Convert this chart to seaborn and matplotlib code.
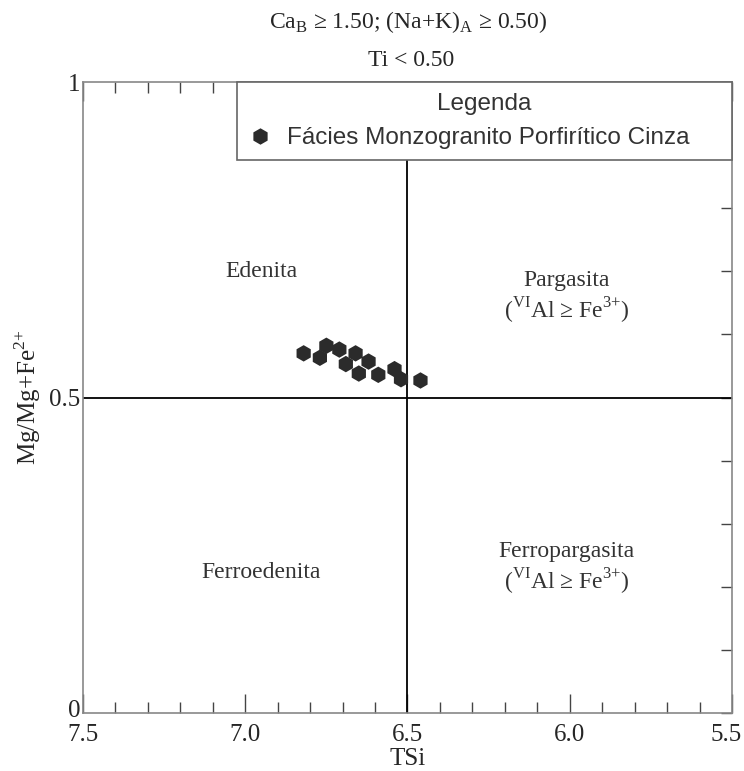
import numpy as np
import pandas as pd
import matplotlib
matplotlib.use("Agg")
import matplotlib.pyplot as plt
import matplotlib.transforms as mtransforms
import seaborn as sns

# Amphibole analyses
tsi = [6.82, 6.75, 6.77, 6.71, 6.69, 6.66, 6.65, 6.62, 6.59, 6.54, 6.52, 6.46]
mg_ratio = [0.570, 0.582, 0.563, 0.576, 0.553, 0.570, 0.538, 0.557, 0.536, 0.545, 0.529, 0.527]
facies = "Fácies Monzogranito Porfirítico Cinza"

x_major = [7.5, 7.0, 6.5, 6.0, 5.5]
y_major = [0, 0.5, 1]
y_labels = ["0", "0.5", "1"]

regions = ["Edenita", "Pargasita\n(${}^{\\mathregular{VI}}$Al ≥ Fe$^{\\mathregular{3{+}}}$)",
           "Ferroedenita", "Ferropargasita\n(${}^{\\mathregular{VI}}$Al ≥ Fe$^{\\mathregular{3{+}}}$)"]
region_x = [6.95, 6.01, 6.95, 6.01]
region_y = [0.70, 0.658, 0.222, 0.228]

df = pd.DataFrame({"TSi": tsi, "Mg": mg_ratio, "Legenda": facies})

sns.set_style("white")
plt.rcParams["font.family"] = ["Liberation Serif", "DejaVu Serif"]
plt.rcParams["mathtext.fontset"] = "custom"
plt.rcParams["mathtext.rm"] = "Liberation Serif"

fig = plt.figure(figsize=(7.44, 7.71), dpi=100)
ax = fig.add_axes([0.1116, 0.0752, 0.8722, 0.8184])

ax.axvline(6.5, color="black", lw=1.3, zorder=1)
ax.axhline(0.5, color="black", lw=1.3, zorder=1)

sns.scatterplot(data=df, x="TSi", y="Mg", hue="Legenda", palette=["#2b2b2b"],
                marker="h", s=140, edgecolor="none", ax=ax, zorder=3)

ax.set_xlim(7.5, 5.5)
ax.set_ylim(0, 1)

ax.set_xticks(x_major)
ax.set_xticklabels(["%.1f" % v for v in x_major], fontsize=18)
ax.set_xticks(np.arange(5.6, 7.45, 0.1), minor=True)
ax.set_yticks(y_major)
ax.set_yticklabels(y_labels, fontsize=18)
ax.set_yticks(np.arange(0.1, 0.95, 0.1), minor=True)

ax.tick_params(axis="x", which="both", direction="in", top=True, bottom=True,
               color="#444444", width=1, pad=8)
ax.tick_params(axis="x", which="major", length=14)
ax.tick_params(axis="x", which="minor", length=8)
ax.tick_params(axis="y", which="both", direction="in", left=False, right=True,
               labelleft=True, color="#444444", width=1, length=8, pad=2)

# keep the last x label inside the figure, and lift the "0" a touch off the "7.5"
last = ax.get_xticklabels()[-1]
last.set_transform(last.get_transform() + mtransforms.ScaledTranslation(-4 / 72, 0, fig.dpi_scale_trans))
zero = ax.get_yticklabels()[0]
zero.set_transform(zero.get_transform() + mtransforms.ScaledTranslation(0, 3 / 72, fig.dpi_scale_trans))

for sp in ax.spines.values():
    sp.set_color("#888888")
    sp.set_linewidth(1.2)

ax.set_xlabel("TSi", fontsize=18, labelpad=1)
ax.set_ylabel("Mg/Mg+Fe$^{\\mathregular{2{+}}}$", fontsize=18, labelpad=4)

for name, rx, ry in zip(regions, region_x, region_y):
    ax.text(rx, ry, name, ha="center", va="center", fontsize=17,
            color="#333333", linespacing=1.2)

fig.text(0.548, 0.971, "Ca$_{\\mathregular{B}}$ ≥ 1.50; (Na+K)$_{\\mathregular{A}}$ ≥ 0.50)",
         ha="center", va="center", fontsize=17)
fig.text(0.552, 0.922, "Ti < 0.50", ha="center", va="center", fontsize=17)

leg = ax.legend(loc="upper left", bbox_to_anchor=(0.237, 0, 0.763, 1.0), mode="expand",
                borderaxespad=0, fancybox=False, framealpha=1, edgecolor="#666666",
                title="Legenda", prop={"family": "Liberation Sans", "size": 17.5},
                handlelength=1.0, handletextpad=0.6, borderpad=0.45, labelspacing=0.5)
leg.get_title().set_fontfamily("Liberation Sans")
leg.get_title().set_fontsize(17.5)
leg.get_frame().set_linewidth(1.2)
for t in leg.get_texts():
    t.set_color("#333333")
leg.get_title().set_color("#333333")

fig.savefig("out.png", dpi=100)
